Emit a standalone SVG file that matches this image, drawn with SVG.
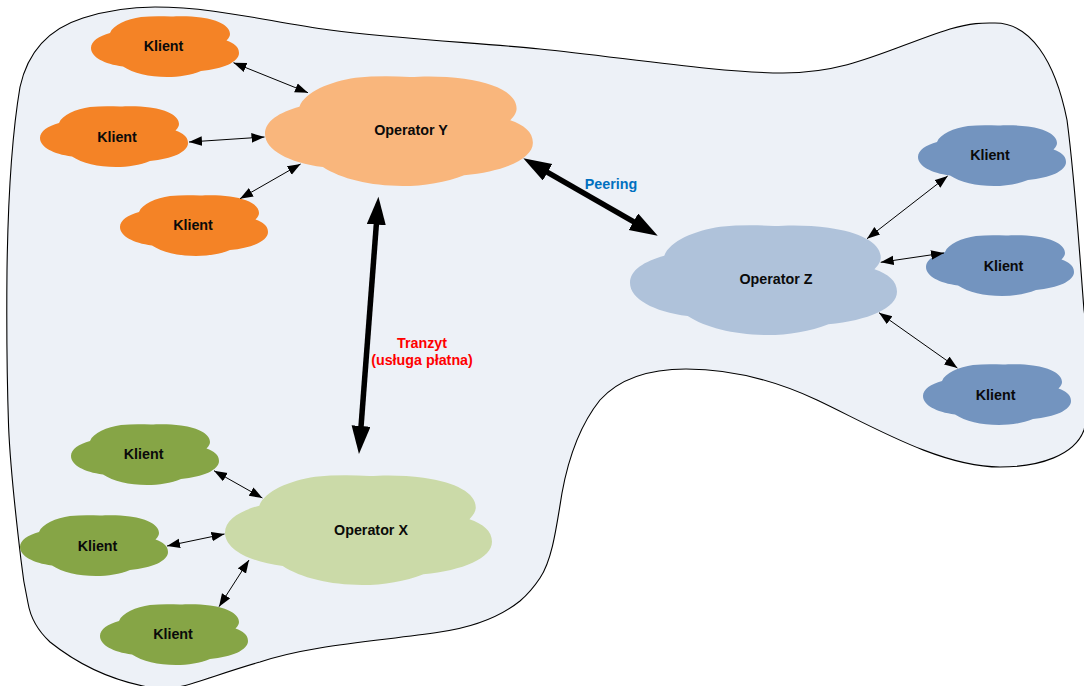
<svg xmlns="http://www.w3.org/2000/svg" xmlns:xlink="http://www.w3.org/1999/xlink" width="1084" height="686" viewBox="0 0 1084 686">
<style>
text{font-family:"Liberation Sans",Arial,sans-serif;font-size:14.3px;font-weight:bold;text-anchor:middle;fill:#0a0a0a}
.area{fill:#edf1f7;stroke:#000;stroke-width:1.1}
.thin{stroke:#000;stroke-width:1;fill:none;marker-start:url(#hs);marker-end:url(#hs)}
.thick{stroke:#000;stroke-width:5.5;fill:none;marker-start:url(#hl);marker-end:url(#hl)}
.oy{fill:#f48326}.oyl{fill:#f9b67c}.zb{fill:#7394bf}.zbl{fill:#afc2da}.xg{fill:#86a546}.xgl{fill:#cbdaa8}
</style>
<defs>
<path id="cloud" d="M19 17C22 9 36 3 50 1C60 0 70 0 80 .6C88 0 100 0 110 1.5C128 4 139 10 139 18C139 20 138 22 135.5 24.5C143 27 148 31 148 37C148 46 132 53 110 55C100 59 88 61 76 61C58 61 42 57 32 50.5C13 48 0 41 0 32C0 25 8 20 19 17Z"/>
<marker id="hs" markerUnits="userSpaceOnUse" markerWidth="14" markerHeight="11" refX="13" refY="5" orient="auto-start-reverse"><path d="M0 .2L13 5L0 9.8Z" fill="#000"/></marker>
<marker id="hl" markerUnits="userSpaceOnUse" markerWidth="29" markerHeight="20" refX="1" refY="9.5" orient="auto-start-reverse"><path d="M0 0L28 9.5L0 19Z" fill="#000"/></marker>
</defs>
<path id="area" class="area" d="M155 7C215 7 270 22 330 30C400 39 480 43 540 49C620 57 720 73 783 73C850 73 890 48 950 29C975 22 985 23 995 23C1030 23 1055 60 1067 120C1075 180 1080 260 1084 310C1090 350 1092 400 1084 430C1075 455 1040 467 1000 467C940 467 870 425 817 400C770 378 725 369 686 369C650 369 620 378 600 400C580 425 568 460 562 493C556 530 552 560 540 578C532 590 527 595 520 601C500 617 475 627 440 632C380 641 310 645 260 662C225 672 200 682 183 686C170 689 155 689 143 686C105 678 75 662 50 642C35 628 30 615 28 603C24 585 22 570 21 560C15 510 10 460 8.6 427C7 380 6.5 320 7 270C8 200 11 140 20 87C27 55 45 30 83 18C105 11 130 7 155 7Z"/>
<g id="operator-y"><use href="#cloud" class="oyl" transform="translate(265 76) scale(1.81 1.803)"/><text x="411" y="135">Operator Y</text></g>
<g id="operator-z"><use href="#cloud" class="zbl" transform="translate(630 225) scale(1.804 1.803)"/><text x="776" y="284">Operator Z</text></g>
<g id="operator-x"><use href="#cloud" class="xgl" transform="translate(225 475) scale(1.804 1.803)"/><text x="371" y="535">Operator X</text></g>
<g id="klient-y1"><use href="#cloud" class="oy" x="91" y="16"/><text x="163.5" y="51">Klient</text></g>
<g id="klient-y2"><use href="#cloud" class="oy" x="40" y="106"/><text x="117" y="142">Klient</text></g>
<g id="klient-y3"><use href="#cloud" class="oy" x="120" y="195"/><text x="193" y="230">Klient</text></g>
<g id="klient-z1"><use href="#cloud" class="zb" x="918" y="125"/><text x="990" y="160">Klient</text></g>
<g id="klient-z2"><use href="#cloud" class="zb" x="926" y="235"/><text x="1003.5" y="271">Klient</text></g>
<g id="klient-z3"><use href="#cloud" class="zb" x="923" y="364"/><text x="995.6" y="400">Klient</text></g>
<g id="klient-x1"><use href="#cloud" class="xg" x="71" y="424"/><text x="143.6" y="459">Klient</text></g>
<g id="klient-x2"><use href="#cloud" class="xg" x="20" y="515"/><text x="97.5" y="551">Klient</text></g>
<g id="klient-x3"><use href="#cloud" class="xg" x="100" y="604"/><text x="173" y="639">Klient</text></g>
<g id="connectors">
<line class="thin" x1="233.5" y1="62.7" x2="308" y2="92.7"/>
<line class="thin" x1="189" y1="142" x2="264.5" y2="137"/>
<line class="thin" x1="240" y1="198.7" x2="300.6" y2="164"/>
<line class="thin" x1="867" y1="238.7" x2="947.7" y2="176"/>
<line class="thin" x1="880.7" y1="262.3" x2="944" y2="253"/>
<line class="thin" x1="879" y1="312.7" x2="957.4" y2="368"/>
<line class="thin" x1="214" y1="470.7" x2="262.4" y2="498"/>
<line class="thin" x1="167" y1="546" x2="224.5" y2="534"/>
<line class="thin" x1="219" y1="606.7" x2="249" y2="560"/>
<line class="thick" x1="376.4" y1="223.6" x2="361" y2="427"/>
<line class="thick" x1="546.7" y1="171.8" x2="634.3" y2="222.2"/>
</g>
<text x="611" y="189" style="fill:#0070c0">Peering</text>
<text x="422" y="348" style="fill:#ff0000">Tranzyt</text>
<text x="422" y="365" style="fill:#ff0000">(usługa płatna)</text>
</svg>
